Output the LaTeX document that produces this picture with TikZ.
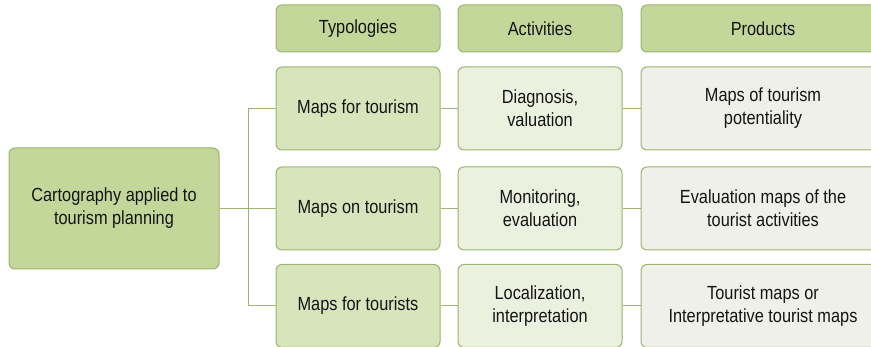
\documentclass[tikz,border=0pt]{standalone}
\usepackage{fontspec}
\setmainfont{Liberation Sans}[FakeStretch=0.86]
\definecolor{hdr}{HTML}{C4D79B}
\definecolor{typ}{HTML}{D8E4BC}
\definecolor{act}{HTML}{EBF1DE}
\definecolor{prd}{HTML}{F0F0EA}
\definecolor{brd}{HTML}{9DB46E}
\definecolor{txt}{HTML}{141414}
\tikzset{
  box/.style={draw=brd, line width=1pt, rounded corners=6pt, align=center, text=txt, font=\fontsize{19}{23}\selectfont, inner sep=0pt},
  hbox/.style={box, fill=hdr, minimum width=164pt, minimum height=47pt},
  tbox/.style={box, fill=typ, minimum width=164pt, minimum height=83pt},
  abox/.style={box, fill=act, minimum width=164pt, minimum height=83pt},
  pbox/.style={box, fill=prd, minimum width=244pt, minimum height=83pt},
  link/.style={draw=brd, line width=1pt}
}
\begin{document}
\begin{tikzpicture}[x=1pt,y=-1pt]
\useasboundingbox (0,0) rectangle (871,347);
\node[box, fill=hdr, minimum width=210pt, minimum height=121pt] (root) at (114,208.5) {Cartography applied to\\tourism planning};
\node[hbox] (h1) at (358,28.5) {Typologies};
\node[hbox] (h2) at (540,28.5) {Activities};
\node[hbox, minimum width=244pt] (h3) at (763,28.5) {Products};
\node[tbox] (t1) at (358,108.5) {Maps for tourism};
\node[tbox] (t2) at (358,208.5) {Maps on tourism};
\node[tbox] (t3) at (358,306) {Maps for tourists};
\node[abox] (a1) at (540,108.5) {Diagnosis,\\valuation};
\node[abox] (a2) at (540,208.5) {Monitoring,\\evaluation};
\node[abox] (a3) at (540,306) {Localization,\\interpretation};
\node[pbox] (p1) at (763,108.5) {Maps of tourism\\potentiality};
\node[pbox] (p2) at (763,208.5) {Evaluation maps of the\\tourist activities};
\node[pbox] (p3) at (763,306) {Tourist maps or\\Interpretative tourist maps};
\coordinate (j) at (248,208.5);
\draw[link] (root.east) -- (j);
\draw[link] (j) |- (t1.west);
\draw[link] (j) |- (t3.west);
\draw[link] (j) -- (t2.west);
\draw[link] (t1) -- (a1);
\draw[link] (t2) -- (a2);
\draw[link] (t3) -- (a3);
\draw[link] (a1) -- (p1);
\draw[link] (a2) -- (p2);
\draw[link] (a3) -- (p3);
\end{tikzpicture}
\end{document}
